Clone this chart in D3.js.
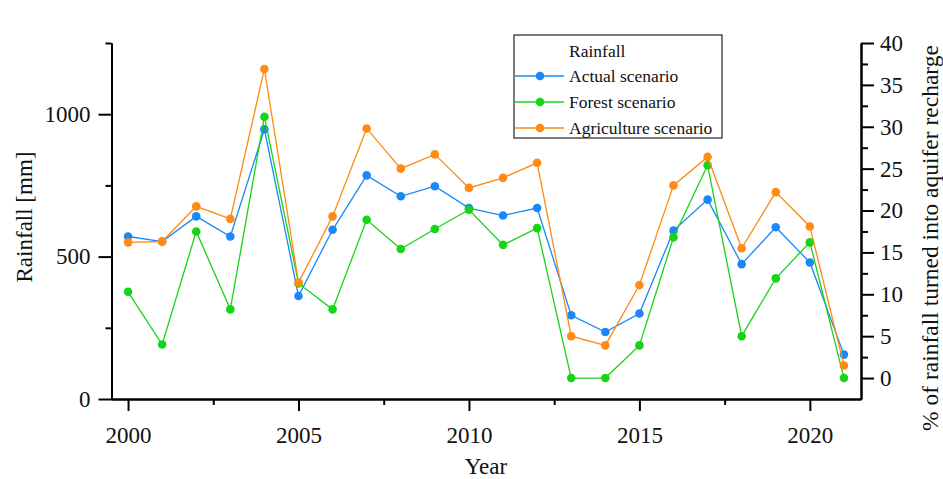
<!DOCTYPE html>
<html>
<head>
<meta charset="utf-8">
<script src="https://cdn.jsdelivr.net/npm/d3@7"></script>
<style>
  body { margin: 0; background: #fff; }
  svg text { font-family: "Liberation Serif", serif; fill: #111; }
</style>
</head>
<body>
<svg id="chart" width="943" height="479"></svg>
<script>
const years = d3.range(2000, 2022);
const actual = [16.9, 16.3, 19.3, 16.9, 29.7, 9.8, 17.7, 24.2, 21.7, 22.9, 20.3, 19.4, 20.3, 7.5, 5.5, 7.7, 17.6, 21.3, 13.6, 18.0, 13.8, 2.8];
const forest = [10.3, 4.0, 17.5, 8.2, 31.2, 11.3, 8.2, 18.9, 15.4, 17.8, 20.1, 15.9, 17.9, 0.0, 0.0, 3.9, 16.8, 25.4, 5.0, 11.9, 16.2, 0.0];
const agriculture = [16.2, 16.3, 20.5, 19.0, 36.9, 11.4, 19.3, 29.8, 25.0, 26.7, 22.7, 23.9, 25.7, 5.0, 3.9, 11.1, 23.0, 26.4, 15.5, 22.2, 18.1, 1.5];
const seriesNames = ["Actual scenario", "Forest scenario", "Agriculture scenario"];
const seriesColors = ["#1a88f8", "#17d417", "#ff8a14"];
const xMajor = [2000, 2005, 2010, 2015, 2020];
const xMinor = [2002.5, 2007.5, 2012.5, 2017.5];
const leftMajor = [0, 500, 1000];
const leftMinor = [250, 750, 1250];
const rightMajor = d3.range(0, 41, 5);
const rightMinor = d3.range(2.5, 40, 5);

const series = [actual, forest, agriculture].map((vals, i) => ({
  name: seriesNames[i],
  color: seriesColors[i],
  values: vals.map((v, j) => ({ year: years[j], v })),
}));

const svg = d3.select("#chart");
const x = d3.scaleLinear([1999.5, 2021.5], [111, 861]);
const yL = d3.scaleLinear([0, 1250], [399, 43]);
const yR = d3.scaleLinear([-2.5, 40], [399, 43]);

const styleAxis = (g, size) => {
  g.select(".domain").attr("stroke", "#000").attr("stroke-width", 2);
  g.selectAll(".tick line").attr("stroke", "#000").attr("stroke-width", 2);
  g.selectAll(".tick text").style("font-size", size + "px").attr("fill", "#111");
};

// bottom axis
svg.append("g").attr("transform", "translate(0,399)")
  .call(d3.axisBottom(x).tickValues(xMinor).tickSize(6).tickSizeOuter(0).tickFormat(""))
  .call((g) => styleAxis(g, 23));
svg.append("g").attr("transform", "translate(0,399)")
  .call(d3.axisBottom(x).tickValues(xMajor).tickSize(12).tickSizeOuter(0).tickFormat(d3.format("d")).tickPadding(16))
  .call((g) => styleAxis(g, 23));

// left axis
svg.append("g").attr("transform", "translate(111.5,0)")
  .call(d3.axisLeft(yL).tickValues(leftMinor).tickSize(6).tickSizeOuter(0).tickFormat(""))
  .call((g) => styleAxis(g, 23));
svg.append("g").attr("transform", "translate(111.5,0)")
  .call(d3.axisLeft(yL).tickValues(leftMajor).tickSize(13).tickSizeOuter(0).tickFormat(d3.format("d")).tickPadding(8))
  .call((g) => styleAxis(g, 23));

// right axis
svg.append("g").attr("transform", "translate(861,0)")
  .call(d3.axisRight(yR).tickValues(rightMinor).tickSize(7).tickSizeOuter(0).tickFormat(""))
  .call((g) => styleAxis(g, 23));
svg.append("g").attr("transform", "translate(861,0)")
  .call(d3.axisRight(yR).tickValues(rightMajor).tickSize(13).tickSizeOuter(0).tickPadding(6))
  .call((g) => styleAxis(g, 23));

// axis titles
svg.append("text").attr("transform", "translate(24,217) rotate(-90)")
  .attr("text-anchor", "middle").attr("dominant-baseline", "central")
  .style("font-size", "23px").text("Rainfall [mm]");
svg.append("text").attr("transform", "translate(930,238) rotate(-90)")
  .attr("text-anchor", "middle").attr("dominant-baseline", "central")
  .style("font-size", "23.5px").text("% of rainfall turned into aquifer recharge");
svg.append("text").attr("x", 486).attr("y", 466)
  .attr("text-anchor", "middle").attr("dominant-baseline", "central")
  .style("font-size", "23px").text("Year");

// series
const line = d3.line().x((d) => x(d.year)).y((d) => yR(d.v));
const sg = svg.selectAll("g.series").data(series).join("g").attr("class", "series");
sg.append("path")
  .attr("d", (d) => line(d.values))
  .attr("fill", "none")
  .attr("stroke", (d) => d.color)
  .attr("stroke-width", 1.3);
sg.each(function (s) {
  d3.select(this).selectAll("circle").data(s.values).join("circle")
    .attr("cx", (d) => x(d.year))
    .attr("cy", (d) => yR(d.v))
    .attr("r", 4.3)
    .attr("fill", s.color);
});

// legend
const lg = svg.append("g").attr("transform", "translate(514,35)");
lg.append("rect").attr("width", 208).attr("height", 103)
  .attr("fill", "#fff").attr("stroke", "#222").attr("stroke-width", 1.2);
lg.append("text").attr("x", 55).attr("y", 16).attr("dominant-baseline", "central")
  .style("font-size", "17.5px").text("Rainfall");
const items = lg.selectAll("g.item").data(series).join("g").attr("class", "item")
  .attr("transform", (d, i) => `translate(0,${41 + i * 26})`);
items.append("line").attr("x1", 1).attr("x2", 50)
  .attr("stroke", (d) => d.color).attr("stroke-width", 1.3);
items.append("circle").attr("cx", 26).attr("r", 4.3).attr("fill", (d) => d.color);
items.append("text").attr("x", 55).attr("dominant-baseline", "central")
  .style("font-size", "17.5px").text((d) => d.name);
</script>
</body>
</html>
